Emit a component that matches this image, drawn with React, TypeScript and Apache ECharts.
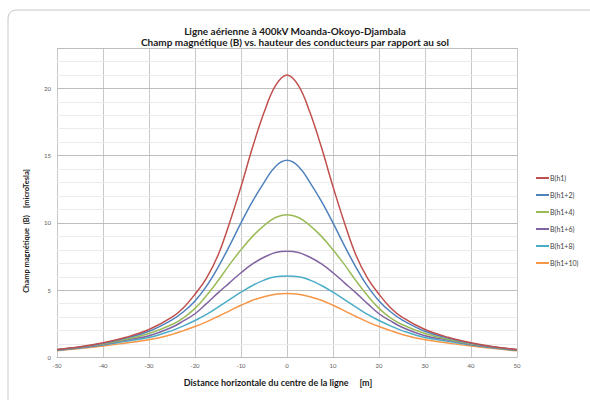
import React, { useEffect, useRef } from "react";
import * as echarts from "echarts";

const TITLE_1 = "Ligne aérienne à 400kV Moanda-Okoyo-Djambala";
const TITLE_2 = "Champ magnétique (B) vs. hauteur des conducteurs par rapport au sol";
const X_TITLE = "Distance horizontale du centre de la ligne     [m]";
const Y_TITLE = "Champ magnétique  (B)    [microTesla]";

const DIST = [-50, -45, -40, -35, -30, -25, -22.5, -20, -17.5, -15, -12.5, -10, -7.5, -5, -2.5, 0,
  2.5, 5, 7.5, 10, 12.5, 15, 17.5, 20, 22.5, 25, 30, 35, 40, 45, 50];

const B_H1 = [0.6, 0.8, 1.1, 1.5, 2.08, 3.0, 3.7, 4.7, 5.9, 7.6, 10.0, 12.7, 15.6, 18.2, 20.2, 21.0,
  20.2, 18.2, 15.6, 12.7, 10.0, 7.6, 5.9, 4.7, 3.7, 3.0, 2.08, 1.5, 1.1, 0.8, 0.6];
const B_H1_2 = [0.58, 0.78, 1.05, 1.45, 1.95, 2.8, 3.4, 4.2, 5.3, 6.7, 8.3, 10.0, 11.6, 13.0, 14.2, 14.65,
  14.2, 13.0, 11.6, 10.0, 8.3, 6.7, 5.3, 4.2, 3.4, 2.8, 1.95, 1.45, 1.05, 0.78, 0.58];
const B_H1_4 = [0.57, 0.76, 1.0, 1.35, 1.78, 2.45, 2.95, 3.65, 4.6, 5.7, 6.9, 8.0, 9.0, 9.8, 10.4, 10.6,
  10.4, 9.8, 9.0, 8.0, 6.9, 5.7, 4.6, 3.65, 2.95, 2.45, 1.78, 1.35, 1.0, 0.76, 0.57];
const B_H1_6 = [0.55, 0.74, 0.97, 1.3, 1.62, 2.25, 2.72, 3.25, 4.0, 4.8, 5.55, 6.3, 6.95, 7.45, 7.8, 7.9,
  7.8, 7.45, 6.95, 6.3, 5.55, 4.8, 4.0, 3.25, 2.72, 2.25, 1.62, 1.3, 0.97, 0.74, 0.55];
const B_H1_8 = [0.53, 0.7, 0.92, 1.2, 1.48, 2.0, 2.35, 2.75, 3.2, 3.75, 4.3, 4.85, 5.35, 5.75, 6.0, 6.05,
  6.0, 5.75, 5.35, 4.85, 4.3, 3.75, 3.2, 2.75, 2.35, 2.0, 1.48, 1.2, 0.92, 0.7, 0.53];
const B_H1_10 = [0.5, 0.66, 0.85, 1.08, 1.32, 1.72, 2.0, 2.3, 2.65, 3.05, 3.47, 3.88, 4.25, 4.52, 4.7, 4.75,
  4.7, 4.52, 4.25, 3.88, 3.47, 3.05, 2.65, 2.3, 2.0, 1.72, 1.32, 1.08, 0.85, 0.66, 0.5];

const SERIES_NAMES = ["B(h1)", "B(h1+2)", "B(h1+4)", "B(h1+6)", "B(h1+8)", "B(h1+10)"];
const SERIES_VALUES = [B_H1, B_H1_2, B_H1_4, B_H1_6, B_H1_8, B_H1_10];
const COLORS = ["#C0504D", "#4F81BD", "#9BBB59", "#8064A2", "#4BACC6", "#F79646"];

const FONT = "Lato, 'Liberation Sans', sans-serif";

export default function App() {
  const ref = useRef<HTMLDivElement>(null);

  useEffect(() => {
    if (!ref.current) return;
    const chart = echarts.init(ref.current, null, { renderer: "svg" });

    const series = SERIES_NAMES.map((name, i) => ({
      name,
      type: "line",
      yAxisIndex: 0,
      data: DIST.map((d, j) => [d, SERIES_VALUES[i][j]]),
      smooth: 0.4,
      showSymbol: false,
      symbol: "none",
      lineStyle: { width: 1.5, color: COLORS[i] },
      itemStyle: { color: COLORS[i] },
      z: 10 - i,
    }));

    chart.setOption({
      animation: false,
      backgroundColor: "#ffffff",
      textStyle: { fontFamily: FONT },
      title: {
        text: TITLE_1 + "\n" + TITLE_2,
        left: "center",
        top: 20,
        textStyle: { fontSize: 10, fontWeight: "bold", color: "#1a1a1a", lineHeight: 11, fontFamily: FONT },
      },
      legend: {
        orient: "vertical",
        left: 531,
        top: 168,
        itemGap: 7,
        itemWidth: 13,
        itemHeight: 2,
        icon: "rect",
        textStyle: { fontSize: 7, color: "#404040", lineHeight: 10, padding: [0, 0, 0, -4], fontFamily: FONT },
        data: SERIES_NAMES,
      },
      grid: { left: 57, right: 73, top: 48, bottom: 42.5, containLabel: false },
      xAxis: {
        type: "value",
        min: -50,
        max: 50,
        interval: 10,
        axisLine: { show: true, lineStyle: { color: "#bfbfbf", width: 1 } },
        axisTick: { show: false },
        axisLabel: { fontSize: 6, color: "#595959", margin: 5 },
        splitLine: { show: true, lineStyle: { color: "#c8c8c8", width: 1 } },
      },
      yAxis: [
        {
          type: "value",
          min: 0,
          max: 23,
          interval: 5,
          axisLine: { show: false },
          axisTick: { show: false },
          axisLabel: { fontSize: 6, color: "#595959", margin: 6, showMaxLabel: false,
            formatter: (v: number) => (v % 5 === 0 ? String(v) : "") },
          splitLine: { show: true, lineStyle: { color: "#bdbdbd", width: 1 } },
          z: 2,
        },
        {
          type: "value",
          min: 0,
          max: 23,
          interval: 1,
          axisLine: { show: false },
          axisTick: { show: false },
          axisLabel: { show: false },
          splitLine: {
            show: true,
            lineStyle: { color: ["transparent", "#ebebeb", "#ebebeb", "#ebebeb", "#ebebeb"], width: 1 },
          },
          z: 1,
        },
      ],
      graphic: [
        {
          type: "rect",
          shape: { x: 8, y: 10, width: 600, height: 420, r: 8 },
          style: { fill: "none", stroke: "#c8c8c8", lineWidth: 1 },
          silent: true,
          z: -10,
        },
        {
          type: "text",
          x: 26,
          y: 231,
          rotation: Math.PI / 2,
          style: {
            text: Y_TITLE,
            fontSize: 7.5,
            fontWeight: "bold",
            fill: "#1a1a1a",
            fontFamily: FONT,
            textAlign: "center",
            textVerticalAlign: "middle",
          },
        },
        {
          type: "text",
          x: 278,
          y: 382,
          style: {
            text: X_TITLE,
            fontSize: 9,
            fontWeight: "bold",
            fill: "#1a1a1a",
            fontFamily: FONT,
            textAlign: "center",
            textVerticalAlign: "middle",
          },
        },
      ],
      series,
    });

    return () => chart.dispose();
  }, []);

  return (
    <div
      ref={ref}
      style={{ position: "fixed", left: 0, top: 0, width: 590, height: 400, background: "#fff" }}
    />
  );
}
